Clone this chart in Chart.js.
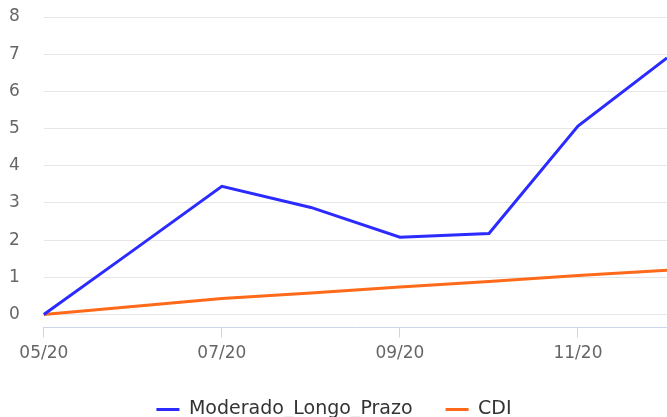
<!DOCTYPE html>
<html>
<head>
<meta charset="utf-8">
<script src="https://cdn.jsdelivr.net/npm/chart.js@4"></script>
<style>
    html, body { margin: 0; padding: 0; background: #fff; overflow: hidden; }
    .wrap { width: 667px; height: 429px; position: relative; }
</style>
</head>
<body>
<div class="wrap"><canvas id="chart"></canvas></div>
<script>
// Dados do gráfico
const labels = ['05/20', '06/20', '07/20', '08/20', '09/20', '10/20', '11/20', '12/20'];
const moderado = [0, 1.72, 3.45, 2.88, 2.08, 2.18, 5.07, 6.9];
const cdi = [0, 0.22, 0.43, 0.58, 0.74, 0.89, 1.05, 1.19];
const yTicks = [0, 1, 2, 3, 4, 5, 6, 7, 8];

const font = "'DejaVu Sans', sans-serif";

// legenda: compensa o espaço extra que o Chart.js deixa à direita
const legendShift = {
    id: 'legendShift',
    afterLayout(chart) {
        chart.legend.left += 8;
        chart.legend.right += 8;
    }
};

new Chart(document.getElementById('chart'), {
    type: 'line',
    data: {
        labels: labels,
        datasets: [{
            label: 'Moderado_Longo_Prazo',
            data: moderado,
            borderColor: '#2b2bff',
            backgroundColor: '#2b2bff',
            borderWidth: 3,
            pointRadius: 0,
            tension: 0
        }, {
            label: 'CDI',
            data: cdi,
            borderColor: '#ff6a1a',
            backgroundColor: '#ff6a1a',
            borderWidth: 3,
            pointRadius: 0,
            tension: 0
        }]
    },
    plugins: [legendShift],
    options: {
        responsive: true,
        maintainAspectRatio: false,
        animation: false,
        layout: { padding: { left: -15, right: 0, top: 17, bottom: 0 } },
        plugins: {
            tooltip: { enabled: false },
            legend: {
                position: 'bottom',
                labels: {
                    color: '#333',
                    font: { family: font, size: 19 },
                    boxWidth: 23,
                    boxHeight: 0,
                    padding: 33
                }
            }
        },
        scales: {
            x: {
                offset: false,
                afterBuildTicks: axis => {
                    axis.ticks = axis.ticks.filter(t => t.value % 2 === 0);
                },
                afterFit: axis => { axis.height -= 3; },
                grid: { drawOnChartArea: false, color: '#ccd6eb', tickLength: 10 },
                border: { color: '#ccd6eb' },
                ticks: { color: '#666', font: { family: font, size: 17 }, padding: 6, maxRotation: 0, autoSkip: false }
            },
            y: {
                min: -0.35,
                max: 8,
                afterBuildTicks: axis => {
                    axis.ticks = yTicks.map(v => ({ value: v }));
                },
                afterFit: axis => {
                    axis.paddingTop = 0;
                    axis.paddingBottom = 0;
                },
                grid: { color: '#e6e6e6', drawTicks: false },
                border: { display: false },
                ticks: { color: '#666', font: { family: font, size: 17 }, padding: 24 }
            }
        }
    }
});
</script>
</body>
</html>
